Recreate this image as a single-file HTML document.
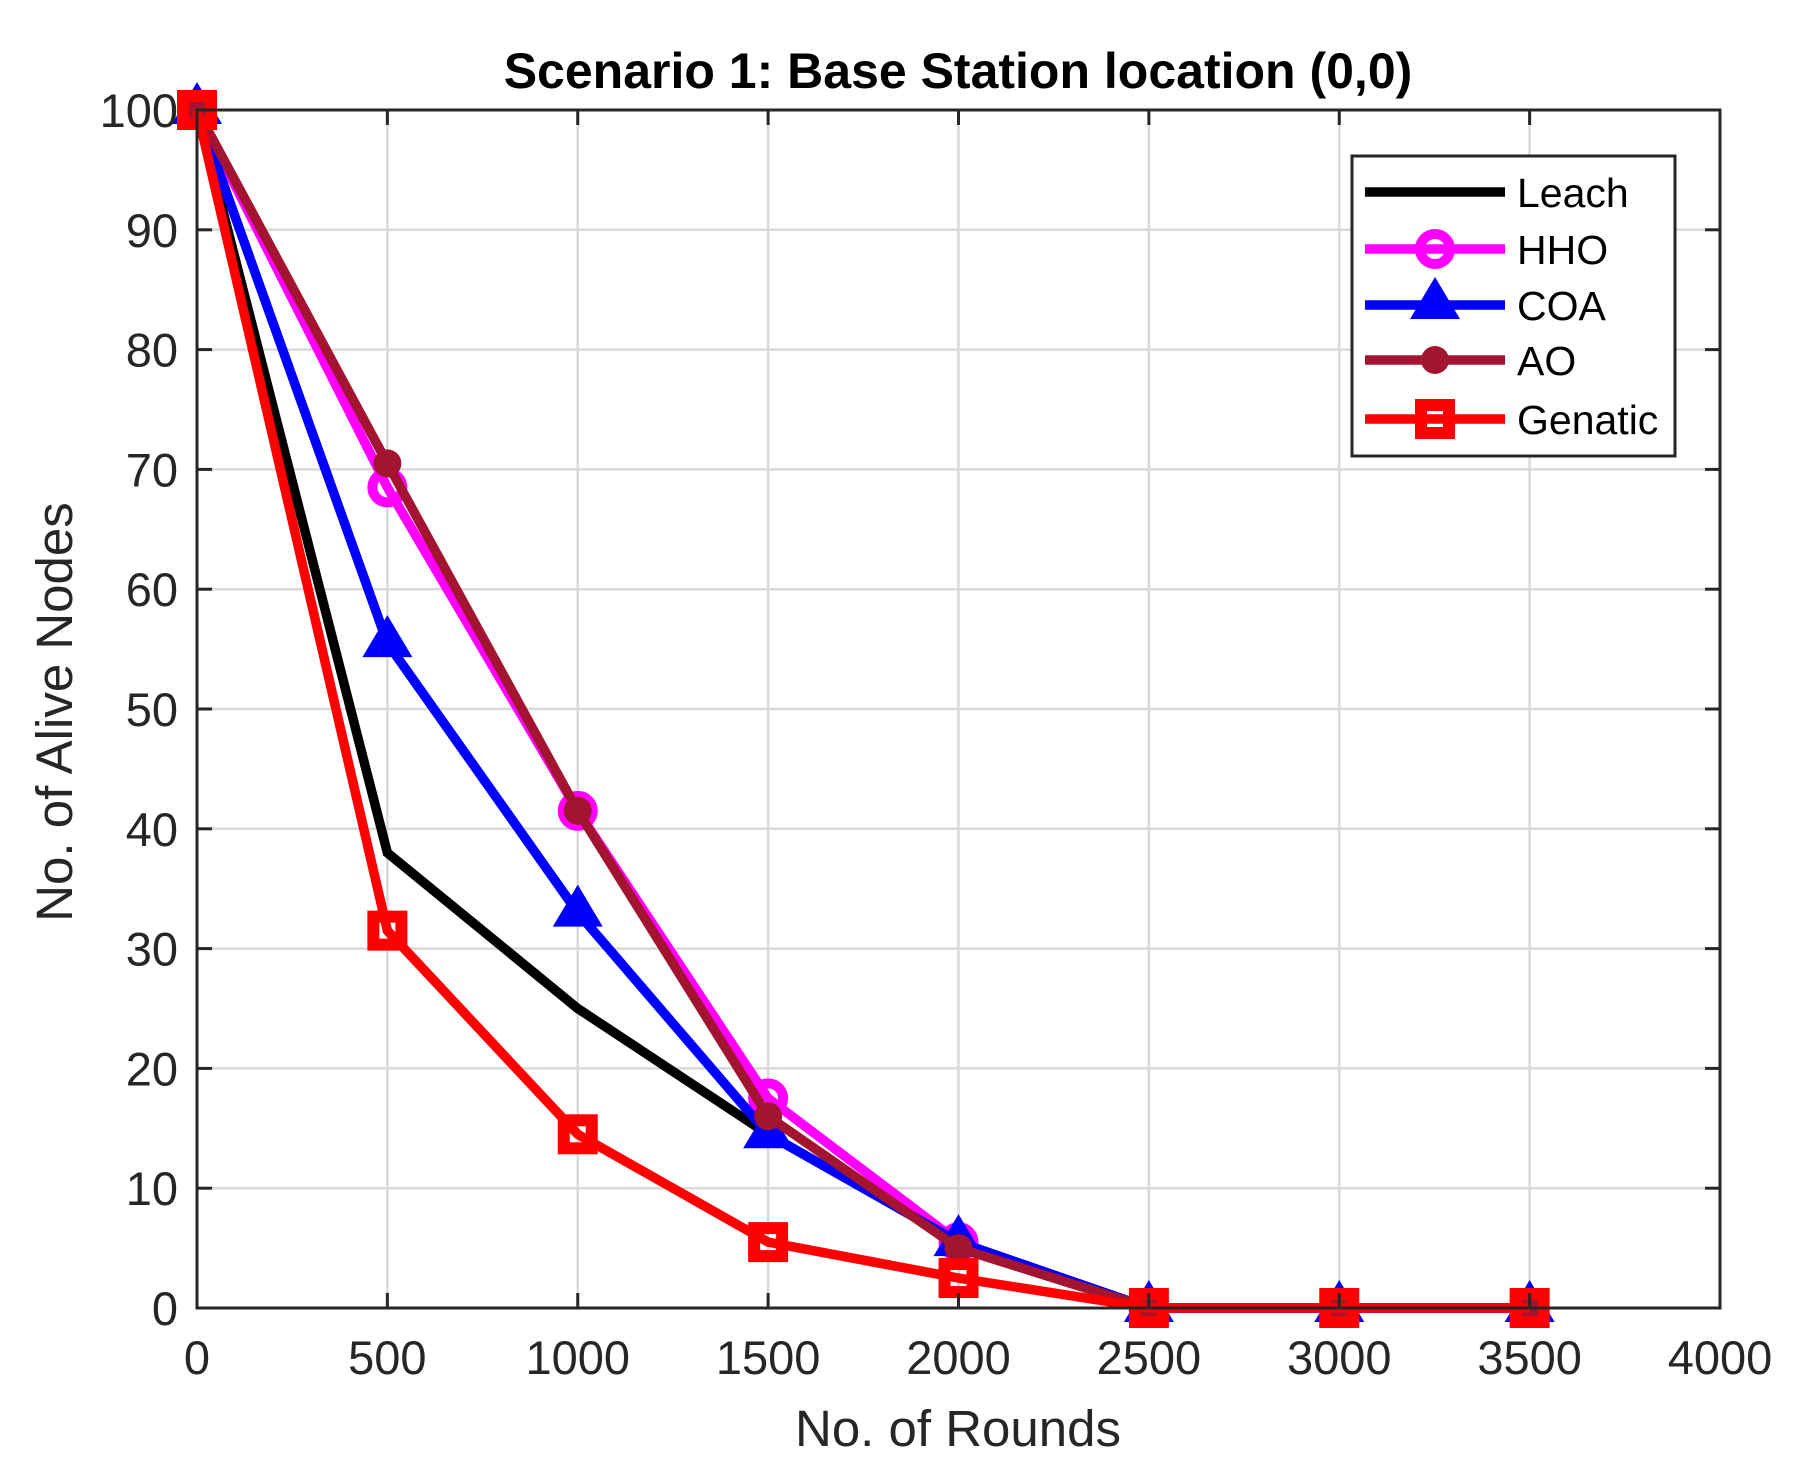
<!DOCTYPE html>
<html><head><meta charset="utf-8"><style>
html,body{margin:0;padding:0;background:#fff;}
svg{display:block;font-family:"Liberation Sans",Arial,sans-serif;}
</style></head><body>
<svg id="chart" width="1801" height="1477" viewBox="0 0 1801 1477" xmlns="http://www.w3.org/2000/svg">
<rect width="1801" height="1477" fill="#fff"/>
<g id="grid"></g>
<g id="series"></g>
<g id="axes"></g>
<text x="958" y="88" text-anchor="middle" font-size="50" font-weight="bold" fill="#000">Scenario 1: Base Station location (0,0)</text>
<text x="958" y="1446" text-anchor="middle" font-size="51" fill="#262626">No. of Rounds</text>
<text transform="translate(72,712) rotate(-90)" text-anchor="middle" font-size="51" fill="#262626">No. of Alive Nodes</text>
<g id="legend"></g>
</svg>
<script>
const xValues = [0, 500, 1000, 1500, 2000, 2500, 3000, 3500];
const leach = [100, 38, 25, 14.5, 5.5, 0, 0, 0];
const hho = [100, 68.5, 41.5, 17.5, 5.5, 0, 0, 0];
const coa = [100, 55.5, 33, 14.5, 5.5, 0, 0, 0];
const ao = [100, 70.5, 41.5, 16, 5, 0, 0, 0];
const genatic = [100, 31.5, 14.5, 5.5, 2.5, 0, 0, 0];
const xTicks = [0, 500, 1000, 1500, 2000, 2500, 3000, 3500, 4000];
const yTicks = [0, 10, 20, 30, 40, 50, 60, 70, 80, 90, 100];
const seriesNames = ["Leach", "HHO", "COA", "AO", "Genatic"];

const L = 197, R = 1720, T = 110, B = 1308;
const xs = v => L + (v / 4000) * (R - L);
const ys = v => B - (v / 100) * (B - T);
const NS = "http://www.w3.org/2000/svg";
function mk(tag, attrs, parent) {
  const e = document.createElementNS(NS, tag);
  for (const k in attrs) e.setAttribute(k, attrs[k]);
  parent.appendChild(e);
  return e;
}
const grid = document.getElementById('grid');
const axes = document.getElementById('axes');
const seriesG = document.getElementById('series');
const legend = document.getElementById('legend');

xTicks.forEach(t => {
  const x = xs(t);
  if (t > 0 && t < 4000) {
    const g = mk('line', {x1: x, x2: x, y1: T, y2: B, stroke: '#d9d9d9', 'stroke-width': 2.5}, grid);
    
    
  }
  const tk1 = mk('line', {x1: x, x2: x, y1: B, y2: B - 15, stroke: '#262626', 'stroke-width': 3}, axes);
  
  
  const tk2 = mk('line', {x1: x, x2: x, y1: T, y2: T + 15, stroke: '#262626', 'stroke-width': 3}, axes);
  
  
  const lb = mk('text', {x: x, y: 1374, 'text-anchor': 'middle', 'font-size': 47, fill: '#262626'}, axes);
  lb.textContent = t;
  
  
});
yTicks.forEach(t => {
  const y = ys(t);
  if (t > 0 && t < 100) {
    const g = mk('line', {x1: L, x2: R, y1: y, y2: y, stroke: '#d9d9d9', 'stroke-width': 2.5}, grid);
    
    
  }
  const tk1 = mk('line', {x1: L, x2: L + 15, y1: y, y2: y, stroke: '#262626', 'stroke-width': 3}, axes);
  
  
  const tk2 = mk('line', {x1: R, x2: R - 15, y1: y, y2: y, stroke: '#262626', 'stroke-width': 3}, axes);
  
  
  const lb = mk('text', {x: 178, y: y + 17, 'text-anchor': 'end', 'font-size': 47, fill: '#262626'}, axes);
  lb.textContent = t;
  
  
});
const frame = mk('rect', {x: L, y: T, width: R - L, height: B - T, fill: 'none', stroke: '#262626', 'stroke-width': 3}, axes);



function marker(type, color, cx, cy, parent) {
  let m;
  if (type === 'circle') {
    m = mk('circle', {cx: cx, cy: cy, r: 15, fill: 'none', stroke: color, 'stroke-width': 10}, parent);
  } else if (type === 'dot') {
    m = mk('circle', {cx: cx, cy: cy, r: 14, fill: color}, parent);
  } else if (type === 'tri') {
    m = mk('polygon', {points: `${cx},${cy - 28} ${cx - 25},${cy + 14} ${cx + 25},${cy + 14}`, fill: color}, parent);
  } else if (type === 'square') {
    m = mk('rect', {x: cx - 14, y: cy - 14, width: 28, height: 28, fill: 'none', stroke: color, 'stroke-width': 12}, parent);
  }
  if (m) {
    
    
  }
}
const series = [
  {name: seriesNames[0], data: leach, color: '#000000', m: null},
  {name: seriesNames[1], data: hho, color: '#ff00ff', m: 'circle'},
  {name: seriesNames[2], data: coa, color: '#0000ff', m: 'tri'},
  {name: seriesNames[3], data: ao, color: '#a2142f', m: 'dot'},
  {name: seriesNames[4], data: genatic, color: '#ff0000', m: 'square'}
];
series.forEach(s => {
  const g = mk('g', {}, seriesG);
  
  
  const pts = s.data.map((v, i) => xs(xValues[i]) + ',' + ys(v)).join(' ');
  const pl = mk('polyline', {points: pts, fill: 'none', stroke: s.color, 'stroke-width': 9.5, 'stroke-linejoin': 'miter'}, g);
  
  
  if (s.m) s.data.forEach((v, i) => marker(s.m, s.color, xs(xValues[i]), ys(v), g));
});

const lb = mk('rect', {x: 1352, y: 156, width: 323, height: 300, fill: '#fff', stroke: '#262626', 'stroke-width': 3}, legend);


const legY = [192, 249, 305, 360, 419];
series.forEach((s, i) => {
  const g = mk('g', {}, legend);
  
  
  const y = legY[i];
  const ln = mk('line', {x1: 1365, x2: 1505, y1: y, y2: y, stroke: s.color, 'stroke-width': 9.5}, g);
  
  
  if (s.m) marker(s.m, s.color, 1435, y, g);
  const t = mk('text', {x: 1517, y: y + 15, 'font-size': 41, fill: '#000'}, g);
  t.textContent = s.name;
  
  
});
</script>
</body></html>
